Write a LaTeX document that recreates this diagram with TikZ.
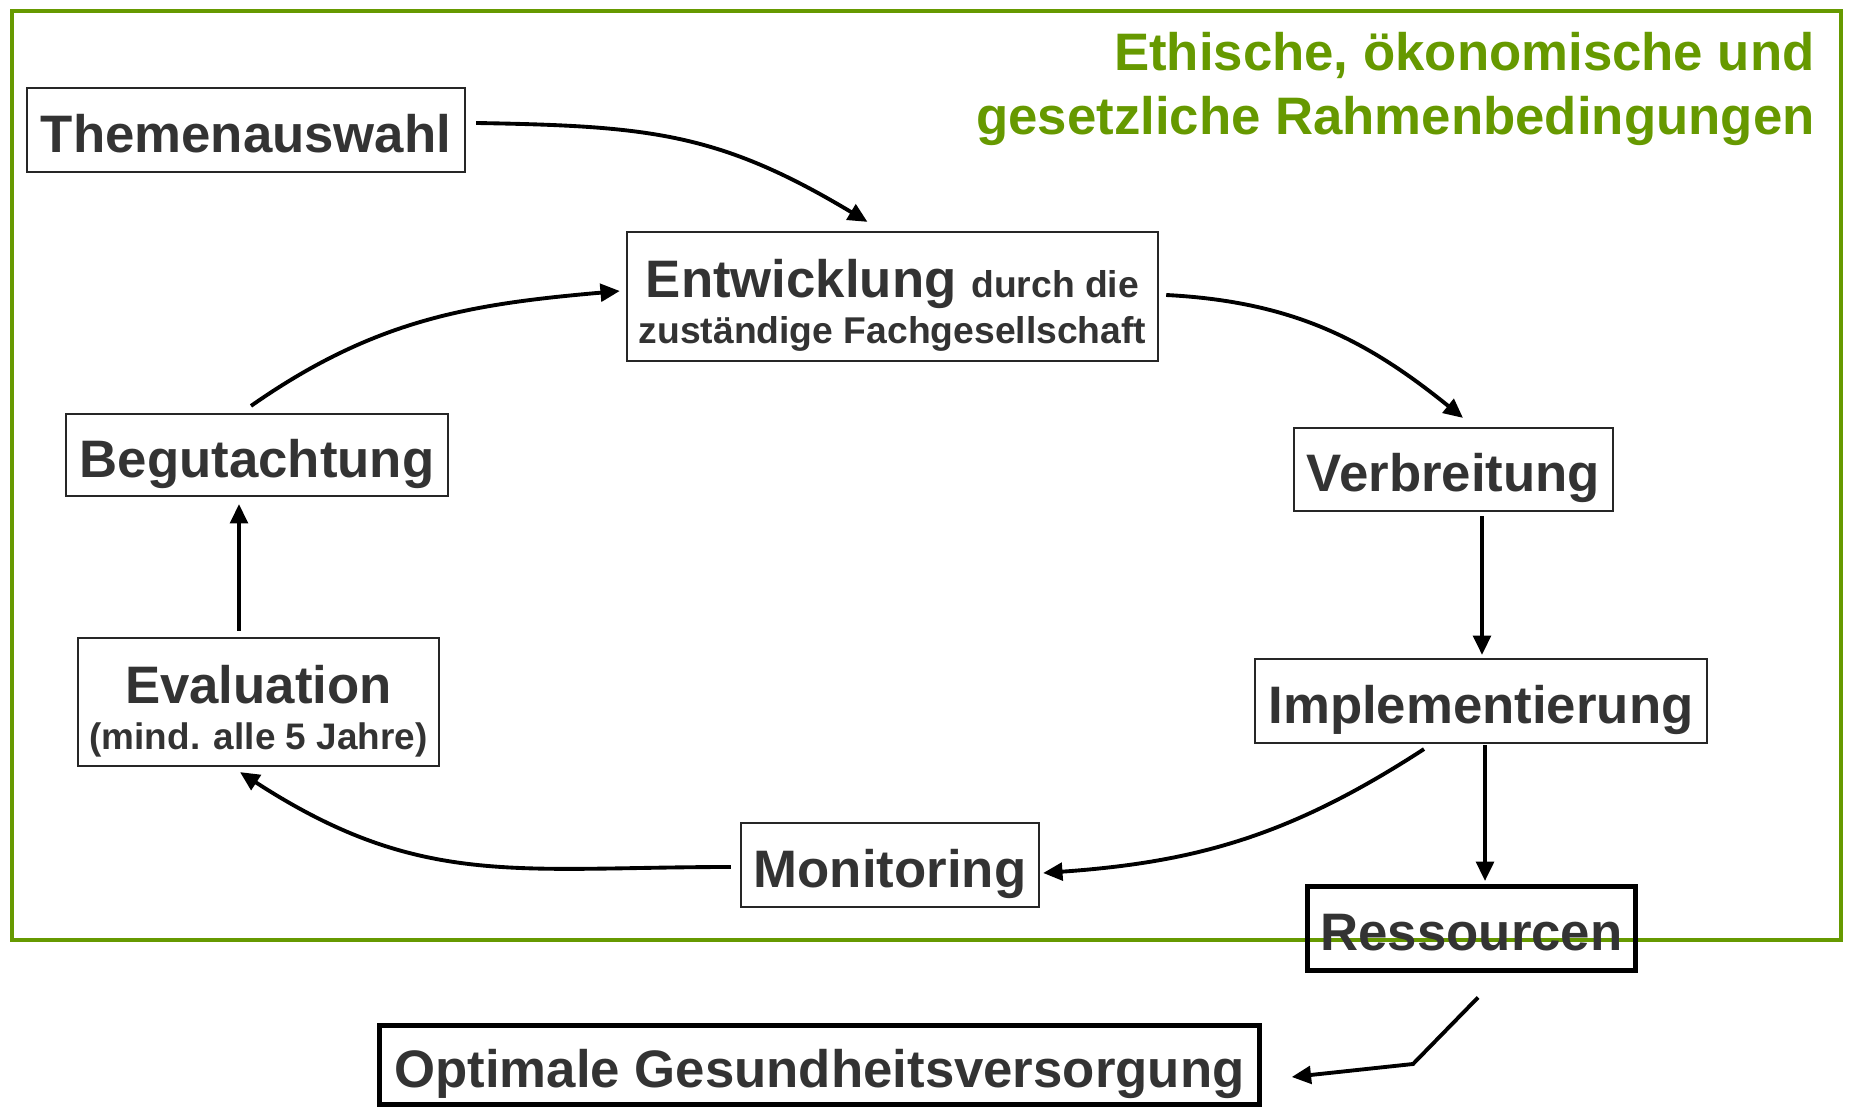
\documentclass[tikz,border=0pt]{standalone}
\usepackage{fontspec}
\setmainfont{Liberation Sans}
\usepackage{xcolor}
\usepackage{tikz}
\usetikzlibrary{arrows.meta, positioning, calc}
\definecolor{RahmenGruen}{RGB}{102, 153, 0}
\definecolor{TextGrau}{RGB}{51, 51, 51}

\begin{document}
\begin{tikzpicture}[x=0.01cm, y=-0.01cm,
    box/.style={draw=black!85, line width=0.6pt, inner sep=0pt, align=center,
                text=TextGrau, font=\bfseries\fontsize{15}{18}\selectfont},
    einzeilig/.style={box, text height=12.6pt, text depth=0pt},
    dickbox/.style={einzeilig, draw=black, line width=1.4pt},
    pfeil/.style={line width=1.1pt, -{Triangle[length=5.5pt, width=5pt]}}]
    \useasboundingbox (0,0) rectangle (1849,1107);

    % Rahmen fuer die Rahmenbedingungen
    \draw[RahmenGruen, line width=1.4pt] (12,11) rectangle (1841,940);
    \node[anchor=east, align=right, text=RahmenGruen, font=\bfseries\fontsize{15}{18}\selectfont]
        (rahmen) at (1827,89) {Ethische, ökonomische und\\gesetzliche Rahmenbedingungen};

    % Kreislauf der Leitlinie
    \node[einzeilig, minimum width=4.38cm, minimum height=0.84cm] (themen) at (246,130) {Themenauswahl};
    \node[box, minimum width=5.31cm, minimum height=1.29cm] (entw) at (892.5,296.5)
        {\rule{0pt}{16pt}Entwicklung {\fontsize{10.6}{13}\selectfont durch die}\\[-5pt]
         {\fontsize{10.6}{13}\selectfont zuständige Fachgesellschaft}};
    \node[einzeilig, minimum width=3.19cm, minimum height=0.83cm] (verbr) at (1453.5,469.5) {Verbreitung};
    \node[einzeilig, minimum width=4.52cm, minimum height=0.84cm] (impl) at (1481,701) {Implementierung};
    \node[einzeilig, minimum width=2.98cm, minimum height=0.84cm] (monit) at (890,865) {Monitoring};
    \node[box, minimum width=3.61cm, minimum height=1.28cm] (eval) at (258.5,702)
        {\rule{0pt}{16pt}Evaluation\\[-4.8pt] {\fontsize{10.5}{13}\selectfont (mind. alle 5 Jahre)}};
    \node[einzeilig, minimum width=3.82cm, minimum height=0.82cm] (begut) at (257,455) {Begutachtung};

    % Ressourcen und Ziel
    \node[dickbox, minimum width=3.28cm, minimum height=0.84cm] (ress) at (1471.5,928.5) {Ressourcen};
    \node[dickbox, minimum width=8.80cm, minimum height=0.79cm] (optimal) at (819.5,1065)
        {Optimale Gesundheitsversorgung};

    % Pfeile
    \draw[pfeil] ([shift={(10,-7)}]themen.east) to[out=-1, in=149, looseness=1.1] ([shift={(-25,-9)}]entw.north);
    \draw[pfeil] ([shift={(7,-1.5)}]entw.east) to[out=-3, in=141] ([shift={(9.5,-9)}]verbr.north);
    \draw[pfeil] ([shift={(28.5,4)}]verbr.south) -- ([shift={(1,-3)}]impl.north);
    \draw[pfeil] ([shift={(4,1)}]impl.south) -- ([shift={(13.5,-3)}]ress.north);
    \draw[pfeil] ([shift={(-57,5)}]impl.south) to[out=-147, in=4] ([shift={(3,8)}]monit.east);
    \draw[pfeil] ([shift={(-9,2)}]monit.west) to[out=180, in=-33, looseness=1.1] ([shift={(-18.5,5)}]eval.south);
    \draw[pfeil] ([shift={(-19.5,-6)}]eval.north) -- ([shift={(-18,7)}]begut.south);
    \draw[pfeil] ([shift={(-6,-7)}]begut.north) to[out=35, in=185] ([shift={(-6,-5.5)}]entw.west);

    \coordinate (knick) at (1413,1064);
    \draw[pfeil] ([shift={(6.5,24.5)}]ress.south) -- (knick) -- ([shift={(29.5,12)}]optimal.east);
\end{tikzpicture}
\end{document}
